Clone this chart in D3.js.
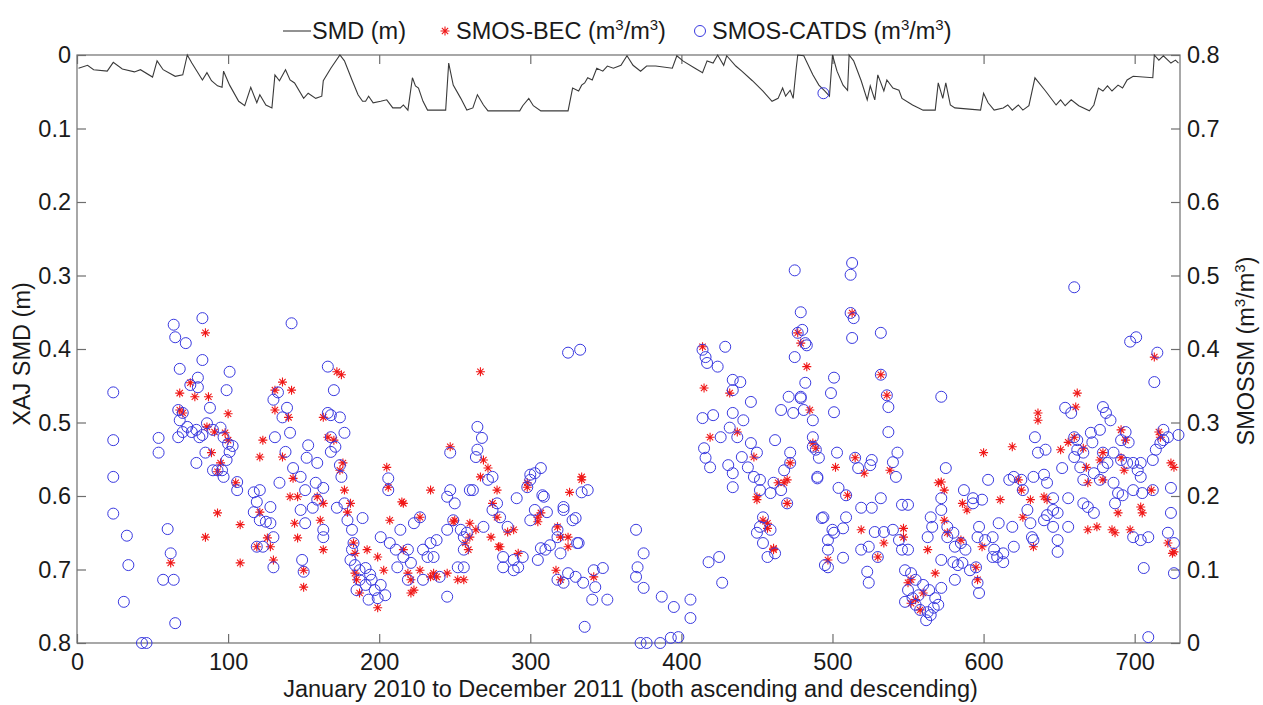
<!DOCTYPE html>
<html>
<head>
<meta charset="utf-8">
<script src="https://cdn.jsdelivr.net/npm/d3@7"></script>
<style>
  html, body { margin: 0; padding: 0; background: #fff; }
  svg { display: block; font-family: "Liberation Sans", Arial, sans-serif; }
</style>
</head>
<body>
<svg id="chart" width="1263" height="705"></svg>
<script>
// Soil moisture deficit simulated by the XAJ model (left axis, metres, reversed)
const smdDay = [1,7,11,20,24,30,38,42,50,53,57,65,70,73,76,83,86,89,93,96,97,101,107,111,115,119,121,125,129,131,134,138,141,144,150,153,158,162,163,168,174,177,182,186,189,191,193,196,201,205,209,214,216,219,222,224,226,229,232,244,246,249,254,258,262,265,269,272,293,295,299,302,307,325,328,332,334,336,338,341,344,348,351,355,360,364,368,373,377,383,394,397,401,409,414,417,421,424,428,430,436,440,447,454,460,464,467,469,472,474,476,477,481,487,491,495,498,500,503,507,510,511,514,519,523,525,528,530,534,536,540,544,546,553,560,568,570,573,575,578,581,598,600,603,607,613,616,619,623,626,630,634,641,648,651,654,658,663,670,673,676,679,682,685,689,692,695,699,712,713,716,719,724,727,729];
const smdVal = [0.018,0.014,0.020,0.022,0.010,0.019,0.023,0.020,0.030,0.008,0.020,0.029,0.027,0.000,0.011,0.034,0.024,0.035,0.042,0.044,0.022,0.041,0.063,0.069,0.044,0.065,0.054,0.068,0.072,0.027,0.035,0.020,0.034,0.038,0.059,0.052,0.059,0.056,0.035,0.018,0.000,0.008,0.034,0.054,0.063,0.063,0.056,0.065,0.063,0.061,0.072,0.072,0.068,0.075,0.031,0.042,0.045,0.063,0.075,0.075,0.011,0.041,0.059,0.075,0.072,0.054,0.068,0.076,0.076,0.069,0.059,0.069,0.076,0.076,0.045,0.049,0.041,0.038,0.031,0.034,0.018,0.022,0.015,0.018,0.014,0.001,0.014,0.022,0.015,0.015,0.018,0.001,0.008,0.018,0.024,0.008,0.011,0.000,0.014,0.001,0.015,0.022,0.035,0.049,0.063,0.059,0.045,0.056,0.048,0.059,0.018,0.000,0.001,0.027,0.041,0.049,0.056,0.000,0.022,0.041,0.048,0.000,0.008,0.035,0.061,0.042,0.061,0.027,0.049,0.034,0.045,0.048,0.059,0.068,0.075,0.075,0.038,0.059,0.038,0.068,0.072,0.075,0.052,0.065,0.075,0.072,0.068,0.075,0.068,0.075,0.069,0.031,0.049,0.068,0.061,0.069,0.061,0.069,0.076,0.068,0.045,0.049,0.042,0.049,0.041,0.045,0.034,0.029,0.031,0.000,0.007,0.001,0.011,0.007,0.011];

// SMOS-CATDS soil moisture retrievals (right axis, m3/m3)
const catdsDay = [24,24,24,24,33,34,31,43,46,54,54,60,62,57,64,65,64,65,72,68,83,83,75,80,80,88,101,99,67,70,68,73,70,67,76,81,79,83,79,85,86,90,95,97,100,103,101,99,96,97,93,90,106,106,117,121,119,117,121,125,128,128,130,130,123,119,130,133,139,136,131,141,138,134,143,148,153,152,159,151,158,163,159,156,163,163,148,151,149,150,166,170,166,168,174,177,168,171,168,174,175,172,177,179,182,183,182,189,181,184,187,191,194,195,187,191,185,197,201,199,204,193,201,206,206,207,214,211,216,219,212,221,219,223,227,229,232,234,238,229,236,240,245,245,247,245,250,254,256,256,252,249,260,265,265,264,268,247,325,333,334,338,307,303,300,298,309,322,328,318,332,370,375,371,370,375,387,395,406,406,398,393,386,377,373,418,425,427,336,341,351,348,342,343,335,330,325,318,322,331,318,320,310,313,307,305,322,330,308,300,303,311,291,295,289,282,289,292,282,285,280,275,278,269,258,256,262,272,275,300,414,416,429,417,424,434,439,434,446,434,441,414,421,432,426,437,415,416,419,431,434,434,440,444,448,452,450,446,462,475,479,477,482,475,482,471,479,466,474,481,487,487,472,472,468,461,466,470,459,454,452,459,454,457,462,452,450,494,497,497,497,500,490,494,513,512,512,514,513,532,480,483,479,487,489,491,490,501,499,501,532,536,537,537,572,543,540,542,526,525,517,515,503,504,509,532,493,509,519,526,546,550,495,501,507,507,519,524,523,524,530,528,534,540,544,546,550,548,552,555,550,557,553,548,555,558,563,567,570,562,565,568,564,560,572,565,566,563,575,572,572,576,576,580,581,585,588,572,580,583,586,591,581,587,593,593,599,603,597,596,595,596,597,601,606,607,609,613,606,610,619,620,613,617,620,625,626,629,631,632,633,633,636,641,634,640,642,646,646,649,646,649,649,640,642,656,656,652,654,658,660,662,662,666,660,664,666,671,672,677,666,669,673,679,681,684,679,679,682,686,686,689,687,677,673,691,694,696,691,695,699,702,704,704,692,699,705,699,704,709,706,712,714,717,719,719,722,724,724,722,726,726,729,712,713,697,701,715,660,709,142];
const catdsSM = [0.341,0.276,0.226,0.176,0.146,0.106,0.056,0.000,0.000,0.279,0.259,0.155,0.122,0.086,0.086,0.027,0.433,0.416,0.408,0.373,0.442,0.385,0.351,0.361,0.348,0.320,0.369,0.344,0.317,0.313,0.303,0.294,0.287,0.280,0.287,0.280,0.290,0.283,0.245,0.259,0.299,0.290,0.293,0.280,0.271,0.268,0.260,0.249,0.235,0.226,0.235,0.235,0.219,0.208,0.205,0.208,0.192,0.178,0.167,0.165,0.185,0.163,0.144,0.103,0.131,0.131,0.331,0.341,0.320,0.307,0.280,0.286,0.260,0.218,0.238,0.226,0.269,0.252,0.245,0.208,0.218,0.211,0.195,0.184,0.154,0.144,0.181,0.163,0.113,0.097,0.376,0.344,0.313,0.310,0.307,0.286,0.280,0.267,0.260,0.242,0.226,0.184,0.190,0.167,0.154,0.136,0.127,0.170,0.113,0.106,0.099,0.102,0.093,0.086,0.086,0.079,0.072,0.072,0.079,0.061,0.065,0.059,0.144,0.208,0.224,0.136,0.154,0.127,0.117,0.127,0.103,0.109,0.086,0.163,0.171,0.127,0.117,0.136,0.140,0.086,0.117,0.090,0.063,0.154,0.208,0.199,0.190,0.154,0.144,0.103,0.103,0.167,0.208,0.294,0.263,0.253,0.279,0.259,0.395,0.399,0.205,0.208,0.238,0.231,0.222,0.212,0.199,0.181,0.167,0.154,0.136,0.154,0.122,0.103,0.090,0.075,0.063,0.049,0.059,0.034,0.008,0.007,0.000,0.000,0.000,0.110,0.117,0.082,0.022,0.059,0.059,0.102,0.099,0.076,0.082,0.090,0.095,0.086,0.082,0.136,0.144,0.122,0.127,0.133,0.129,0.113,0.185,0.170,0.201,0.167,0.181,0.178,0.197,0.117,0.113,0.117,0.099,0.103,0.103,0.158,0.171,0.181,0.190,0.158,0.150,0.127,0.208,0.222,0.226,0.229,0.399,0.389,0.403,0.381,0.376,0.358,0.355,0.344,0.328,0.313,0.303,0.306,0.310,0.293,0.280,0.280,0.265,0.252,0.239,0.242,0.231,0.212,0.253,0.239,0.226,0.222,0.259,0.272,0.276,0.507,0.450,0.422,0.408,0.389,0.354,0.335,0.333,0.317,0.313,0.317,0.280,0.267,0.259,0.245,0.235,0.218,0.208,0.190,0.204,0.171,0.158,0.154,0.136,0.117,0.122,0.208,0.150,0.171,0.140,0.127,0.103,0.154,0.226,0.748,0.517,0.501,0.449,0.442,0.415,0.422,0.426,0.405,0.335,0.303,0.263,0.252,0.224,0.361,0.340,0.314,0.365,0.337,0.321,0.287,0.335,0.259,0.246,0.226,0.249,0.242,0.238,0.252,0.259,0.211,0.201,0.197,0.170,0.171,0.184,0.184,0.188,0.188,0.106,0.150,0.156,0.116,0.127,0.131,0.097,0.082,0.117,0.151,0.151,0.154,0.140,0.127,0.127,0.099,0.095,0.086,0.072,0.065,0.061,0.056,0.052,0.045,0.042,0.048,0.052,0.031,0.038,0.061,0.072,0.079,0.075,0.171,0.158,0.144,0.238,0.197,0.181,0.158,0.144,0.150,0.131,0.136,0.127,0.113,0.110,0.106,0.109,0.099,0.086,0.208,0.197,0.190,0.195,0.222,0.158,0.144,0.103,0.082,0.068,0.140,0.144,0.127,0.117,0.110,0.117,0.163,0.158,0.131,0.122,0.222,0.226,0.222,0.208,0.181,0.163,0.144,0.140,0.226,0.259,0.263,0.280,0.229,0.218,0.197,0.181,0.177,0.158,0.140,0.124,0.167,0.174,0.158,0.197,0.238,0.320,0.313,0.280,0.276,0.263,0.259,0.253,0.239,0.222,0.286,0.273,0.290,0.190,0.185,0.177,0.321,0.313,0.303,0.259,0.239,0.245,0.259,0.218,0.204,0.190,0.222,0.231,0.276,0.287,0.273,0.249,0.245,0.245,0.235,0.245,0.226,0.201,0.208,0.204,0.144,0.140,0.144,0.102,0.208,0.263,0.272,0.276,0.290,0.280,0.211,0.177,0.150,0.136,0.095,0.283,0.249,0.355,0.410,0.416,0.395,0.484,0.008,0.435];

// SMOS-BEC soil moisture retrievals (right axis, m3/m3)
const becDay = [85,75,68,78,87,68,70,100,86,91,98,100,123,89,95,93,121,105,108,93,85,62,108,121,119,126,130,128,136,142,131,140,131,136,143,141,146,144,146,150,150,159,163,161,163,163,172,175,166,170,176,174,177,181,179,183,184,184,185,187,192,199,199,203,205,206,207,215,216,219,221,223,221,227,227,234,234,236,238,245,247,250,252,256,257,260,264,267,216,249,269,272,267,275,278,279,334,326,298,307,414,415,419,432,437,448,450,477,479,483,485,487,472,470,464,457,461,259,260,274,278,285,289,280,292,298,305,305,318,320,325,325,317,320,334,342,454,457,461,450,468,470,497,513,532,536,489,502,515,521,538,510,519,534,530,547,547,572,574,570,586,589,574,585,563,568,552,550,560,555,552,558,576,599,595,596,600,619,611,623,625,631,633,626,640,642,636,636,656,651,662,661,660,666,668,669,669,675,677,679,679,685,687,691,694,691,693,689,704,705,711,716,717,724,726,726,713,722,725,697];
const becSM = [0.422,0.354,0.340,0.335,0.335,0.317,0.313,0.312,0.294,0.287,0.286,0.276,0.276,0.259,0.245,0.233,0.253,0.218,0.161,0.177,0.144,0.109,0.109,0.178,0.131,0.143,0.113,0.131,0.355,0.344,0.344,0.307,0.317,0.253,0.224,0.199,0.199,0.163,0.143,0.099,0.076,0.199,0.190,0.167,0.127,0.307,0.369,0.365,0.280,0.276,0.245,0.235,0.208,0.190,0.178,0.136,0.122,0.095,0.086,0.068,0.127,0.048,0.117,0.099,0.239,0.212,0.167,0.192,0.127,0.095,0.086,0.072,0.068,0.171,0.099,0.208,0.090,0.095,0.090,0.095,0.267,0.167,0.086,0.086,0.136,0.163,0.154,0.369,0.190,0.165,0.249,0.238,0.226,0.190,0.171,0.131,0.222,0.205,0.212,0.177,0.403,0.347,0.280,0.340,0.287,0.253,0.195,0.422,0.408,0.376,0.317,0.272,0.245,0.222,0.218,0.163,0.129,0.127,0.144,0.144,0.208,0.151,0.154,0.131,0.122,0.218,0.171,0.165,0.158,0.144,0.144,0.131,0.099,0.086,0.226,0.090,0.167,0.156,0.127,0.199,0.218,0.190,0.113,0.449,0.365,0.337,0.265,0.239,0.252,0.231,0.235,0.201,0.154,0.136,0.117,0.156,0.144,0.219,0.208,0.218,0.190,0.181,0.167,0.140,0.127,0.095,0.086,0.082,0.068,0.059,0.054,0.045,0.150,0.131,0.103,0.086,0.259,0.267,0.195,0.222,0.208,0.195,0.131,0.171,0.199,0.195,0.313,0.303,0.273,0.263,0.340,0.321,0.280,0.265,0.239,0.218,0.154,0.158,0.249,0.259,0.222,0.154,0.150,0.290,0.276,0.252,0.235,0.177,0.185,0.177,0.208,0.287,0.280,0.245,0.124,0.239,0.389,0.136,0.122,0.154];

// Axis ticks and labels
const xTicks = [0,100,200,300,400,500,600,700];
const smdTicks = [0,0.1,0.2,0.3,0.4,0.5,0.6,0.7,0.8];
const smTicks = [0,0.1,0.2,0.3,0.4,0.5,0.6,0.7,0.8];
const xTitle = "January 2010 to December 2011 (both ascending and descending)";

const svg = d3.select("#chart");
const L = 77, R = 1180, T = 55, B = 643;

const x = d3.scaleLinear().domain([0, 730]).range([L, R]);
const yL = d3.scaleLinear().domain([0, 0.8]).range([T, B]);   // SMD, reversed
const yR = d3.scaleLinear().domain([0, 0.8]).range([B, T]);   // SMOS SM

const axisColor = "#6e6e6e";
const txt = "#1a1a1a";
const fmt = d => d === 0 ? "0" : d3.format(".1f")(d);

// axis frame
svg.append("rect").attr("x", L).attr("y", T).attr("width", R - L).attr("height", B - T)
  .attr("fill", "none").attr("stroke", axisColor).attr("stroke-width", 1.2);

// x axis (bottom) and its mirror ticks at the top
const xb = svg.append("g").attr("transform", `translate(0,${B})`)
  .call(d3.axisBottom(x).tickValues(xTicks).tickSize(-9).tickPadding(10).tickFormat(d3.format("d")));
const xt = svg.append("g").attr("transform", `translate(0,${T})`)
  .call(d3.axisTop(x).tickValues(xTicks).tickSize(-9).tickFormat(""));
// left axis
const yl = svg.append("g").attr("transform", `translate(${L},0)`)
  .call(d3.axisLeft(yL).tickValues(smdTicks).tickSize(-9).tickPadding(6).tickFormat(fmt));
// right axis
const yr = svg.append("g").attr("transform", `translate(${R},0)`)
  .call(d3.axisRight(yR).tickValues(smTicks).tickSize(-9).tickPadding(7).tickFormat(fmt));

[xb, xt, yl, yr].forEach(g => {
  g.select(".domain").remove();
  g.selectAll(".tick line").attr("stroke", axisColor).attr("stroke-width", 1.2);
  g.selectAll(".tick text").attr("fill", txt).attr("font-size", 23.5)
    .attr("font-family", "Liberation Sans, Arial, sans-serif");
});

// axis titles
svg.append("text").attr("x", (L + R) / 2 + 2).attr("y", 697).attr("text-anchor", "middle")
  .attr("font-size", 23.5).attr("fill", txt).text(xTitle);
svg.append("text").attr("transform", `translate(30,${(T + B) / 2 + 5}) rotate(-90)`)
  .attr("text-anchor", "middle").attr("font-size", 23.5).attr("fill", txt).text("XAJ SMD (m)");
const rt = svg.append("text").attr("transform", `translate(1254,${(T + B) / 2 + 2}) rotate(-90)`)
  .attr("text-anchor", "middle").attr("font-size", 23.5).attr("fill", txt);
rt.append("tspan").text("SMOSSM (m");
rt.append("tspan").attr("font-size", 15).attr("dy", -9).text("3");
rt.append("tspan").attr("dy", 9).text("/m");
rt.append("tspan").attr("font-size", 15).attr("dy", -9).text("3");
rt.append("tspan").attr("dy", 9).text(")");

const plot = svg.append("g");

// SMD line
const smd = smdDay.map((d, i) => [d, smdVal[i]]);
plot.append("path").datum(smd)
  .attr("fill", "none").attr("stroke", "#3a3a3a").attr("stroke-width", 1.1)
  .attr("d", d3.line().x(d => x(d[0])).y(d => yL(d[1])));

// asterisk marker
const star = s => `M${-s},0H${s}M0,${-s}V${s}M${-s*0.7},${-s*0.7}L${s*0.7},${s*0.7}M${-s*0.7},${s*0.7}L${s*0.7},${-s*0.7}`;

const bec = becDay.map((d, i) => [d, becSM[i]]);
plot.append("g").selectAll("path").data(bec).join("path")
  .attr("transform", d => `translate(${x(d[0])},${yR(d[1])})`)
  .attr("d", star(4.5)).attr("fill", "none").attr("stroke", "#f01818").attr("stroke-width", 1.1);

const catds = catdsDay.map((d, i) => [d, catdsSM[i]]);
plot.append("g").selectAll("circle").data(catds).join("circle")
  .attr("cx", d => x(d[0])).attr("cy", d => yR(d[1])).attr("r", 5.5)
  .attr("fill", "none").attr("stroke", "#3a3ae0").attr("stroke-width", 1);

// legend
const lg = svg.append("g").attr("font-size", 23.5).attr("fill", txt);
lg.append("line").attr("x1", 283).attr("x2", 311).attr("y1", 31).attr("y2", 31)
  .attr("stroke", "#3a3a3a").attr("stroke-width", 1.1);
lg.append("text").attr("x", 312).attr("y", 39).text("SMD (m)");
lg.append("path").attr("transform", "translate(445,31)").attr("d", star(4.5))
  .attr("fill", "none").attr("stroke", "#f01818").attr("stroke-width", 1.1);
const t2 = lg.append("text").attr("x", 456).attr("y", 39);
t2.append("tspan").text("SMOS-BEC (m");
t2.append("tspan").attr("font-size", 15).attr("dy", -9).text("3");
t2.append("tspan").attr("dy", 9).text("/m");
t2.append("tspan").attr("font-size", 15).attr("dy", -9).text("3");
t2.append("tspan").attr("dy", 9).text(")");
lg.append("circle").attr("cx", 700).attr("cy", 31).attr("r", 5.5)
  .attr("fill", "none").attr("stroke", "#3a3ae0").attr("stroke-width", 1);
const t3 = lg.append("text").attr("x", 712).attr("y", 39);
t3.append("tspan").text("SMOS-CATDS (m");
t3.append("tspan").attr("font-size", 15).attr("dy", -9).text("3");
t3.append("tspan").attr("dy", 9).text("/m");
t3.append("tspan").attr("font-size", 15).attr("dy", -9).text("3");
t3.append("tspan").attr("dy", 9).text(")");
</script>
</body>
</html>
